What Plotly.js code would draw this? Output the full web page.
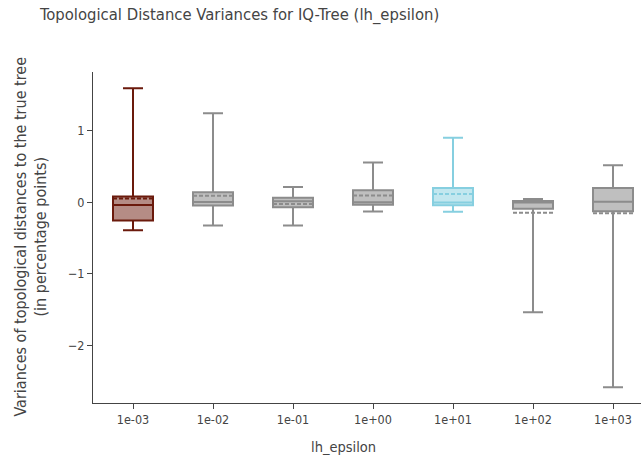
<!DOCTYPE html>
<html><head><meta charset="utf-8">
<script src="https://cdn.plot.ly/plotly-3.0.1.min.js"></script>
<style>html,body{margin:0;padding:0;background:#fff}</style>
</head><body>
<div id="chart" style="width:641px;height:461px"></div>
<script>
const categories = ["1e-03","1e-02","1e-01","1e+00","1e+01","1e+02","1e+03"];
const lowerFence = [-0.39,-0.325,-0.326,-0.13,-0.135,-1.535,-2.58];
const q1 =         [-0.256,-0.047,-0.072,-0.035,-0.043,-0.092,-0.125];
const median =     [-0.04,0.003,0.014,0.0,-0.003,-0.003,0.005];
const q3 =         [0.08,0.14,0.062,0.167,0.197,0.018,0.197];
const upperFence = [1.59,1.24,0.21,0.553,0.90,0.046,0.516];
const mean =       [0.052,0.09,-0.027,0.092,0.113,-0.147,-0.155];
const lineColors = ["#6b1a0c","#8c8c8c","#8c8c8c","#8c8c8c","#86cfe0","#8c8c8c","#8c8c8c"];
const fillColors = ["rgba(107,26,12,0.5)","rgba(128,128,128,0.5)","rgba(128,128,128,0.5)","rgba(128,128,128,0.5)","rgba(134,207,224,0.5)","rgba(128,128,128,0.5)","rgba(128,128,128,0.5)"];

const FONT = "DejaVu Sans Condensed, Liberation Sans";
const traces = categories.map((c, i) => ({
  type: "box",
  name: c,
  x: [c],
  q1: [q1[i]], median: [median[i]], q3: [q3[i]],
  lowerfence: [lowerFence[i]], upperfence: [upperFence[i]],
  mean: [mean[i]],
  boxmean: true,
  boxpoints: false,
  width: 0.5,
  whiskerwidth: 0.5,
  line: {color: lineColors[i], width: 2},
  fillcolor: fillColors[i],
  showlegend: false
}));

const layout = {
  width: 641, height: 461,
  margin: {l: 93, r: 0, t: 72, b: 58},
  paper_bgcolor: "#fff", plot_bgcolor: "#fff",
  font: {family: FONT, size: 12, color: "#444"},
  title: {text: "Topological Distance Variances for IQ-Tree (lh_epsilon)", font: {size: 16.5, color: "#444"},
          x: 40/641, xanchor: "left", xref: "container", y: 1 - 14/461, yanchor: "middle", yref: "container"},
  boxmode: "overlay",
  xaxis: {type: "category", categoryarray: categories, categoryorder: "array", range: [-0.5, 6.35],
          showline: true, linecolor: "#444", linewidth: 1, ticks: "outside", ticklen: 5, tickcolor: "#444",
          showgrid: false, zeroline: false, tickfont: {size: 12.5}},
  yaxis: {range: [-2.80, 1.815], tick0: 0, dtick: 1, showline: true, linecolor: "#444", linewidth: 1,
          ticks: "outside", ticklen: 5, tickcolor: "#444", showgrid: false, zeroline: false, tickfont: {size: 12.5}},
  annotations: [
    {text: "lh_epsilon", xref: "paper", yref: "paper", x: (343-93)/548, y: (403-447)/331,
     xanchor: "center", yanchor: "middle", showarrow: false, font: {size: 14.5}},
    {text: "Variances of topological distances to the true tree<br>(in percentage points)", textangle: -90,
     xref: "paper", yref: "paper", x: (30.5-93)/548, y: (403-237)/331,
     xanchor: "center", yanchor: "middle", showarrow: false, font: {size: 16}}
  ]
};
Plotly.newPlot("chart", traces, layout, {displayModeBar: false});
</script>
</body></html>
